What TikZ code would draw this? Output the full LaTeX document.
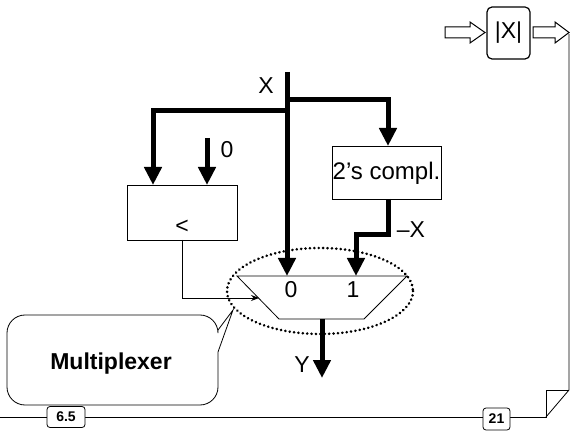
\documentclass[tikz,border=0pt]{standalone}
\usepackage{fontspec}
\setmainfont{Liberation Sans}
\usetikzlibrary{arrows.meta}
\begin{document}
\begin{tikzpicture}[x=1pt,y=-1pt,
  bus/.style={line width=5pt,-{Triangle[width=17pt,length=18pt]}},
  thin/.style={line width=0.8pt},
  lbl/.style={inner sep=0pt,font=\fontsize{23}{26}\selectfont},
  blk/.style={draw,thin,fill=white,inner sep=0pt},
  pg/.style={draw,thin,fill=white,rounded corners=3pt,inner sep=0pt,font=\bfseries\fontsize{14}{16}\selectfont},
  hollow/.style={draw,line width=1pt,fill=white}]
\useasboundingbox (0,0) rectangle (571,433);
% page frame
\coordinate (bl) at (0,417);
\coordinate (fold) at (546,417);
\coordinate (foldtop) at (546,390);
\coordinate (fr) at (569,390);
\coordinate (rt) at (569,34);
\draw[thin] (bl) -- (fold) -- (foldtop) -- (fr);
\draw[thin] (fold) -- (fr) -- (rt);
\node[pg,minimum width=38pt,minimum height=21pt] (p1) at (66,417) {6.5};
\node[pg,minimum width=27pt,minimum height=22pt] (p2) at (496.5,419) {21};
% top icon
\draw[hollow] (445,27) -- (470,27) -- (470,22) -- (485,32.5) -- (470,43) -- (470,38) -- (445,38) -- cycle;
\node[draw,line width=1.2pt,rounded corners=5pt,minimum width=43pt,minimum height=52pt,inner sep=0pt,font=\fontsize{23}{26}\selectfont] (abs) at (508.5,33) {|X|};
\draw[hollow] (533,27) -- (555,27) -- (555,22) -- (569,32.5) -- (555,43) -- (555,38) -- (533,38) -- cycle;
% blocks
\node[blk,minimum width=110pt,minimum height=55pt] (cmp) at (182,212.5) {};
\node[lbl] (lt) at (182,227) {<};
\node[blk,minimum width=109pt,minimum height=53pt] (neg) at (386.5,172.5) {};
\node[lbl,font=\fontsize{24}{26}\selectfont] (negt) at (386.5,173) {2’s compl.};
% mux
\coordinate (mtl) at (237,276);
\coordinate (mtr) at (407,276);
\coordinate (mbr) at (364,319);
\coordinate (mbl) at (279,319);
\draw[thin] (mtl) -- (mtr) -- (mbr) -- (mbl) -- cycle;
\node[lbl] (m0) at (291,290) {0};
\node[lbl] (m1) at (353,290) {1};
\draw[line width=2.8pt,dash pattern=on 0.1pt off 4.3pt,line cap=round] (320,291) ellipse [x radius=93, y radius=43];
% buses
\coordinate (xtop) at (287,72);
\coordinate (x0in) at (287,276);
\coordinate (xr) at (287,100);
\coordinate (xrc) at (388,100);
\coordinate (xl) at (287,111);
\coordinate (xlc) at (153,111);
\coordinate (c1in) at (153,185);
\coordinate (zs) at (207,138);
\coordinate (c2in) at (207,185);
\coordinate (nin) at (388,146);
\coordinate (nout) at (388,199);
\coordinate (nb) at (388,235);
\coordinate (nc) at (356,235);
\coordinate (x1in) at (356,276);
\coordinate (yout) at (322,319);
\coordinate (yend) at (322,378);
\draw[bus] (xtop) -- (x0in);
\draw[bus] (xl) -- (xlc) -- (c1in);
\draw[bus] (xr) -- (xrc) -- (nin);
\draw[bus] (zs) -- (c2in);
\draw[bus] (nout) -- (nb) -- (nc) -- (x1in);
\draw[bus] (yout) -- (yend);
% control
\coordinate (cout) at (182,240);
\coordinate (cb) at (182,298);
\coordinate (cin) at (259,298);
\draw[thin,-{Stealth[length=8pt,width=6pt]}] (cout) -- (cb) -- (cin);
% labels
\node[lbl] (lx) at (266,86) {X};
\node[lbl] (l0) at (227,150) {0};
\node[lbl] (lnx) at (411,230) {–X};
\node[lbl] (ly) at (302,365) {Y};
% callout
\draw[thin,fill=white] (218,330) [rounded corners=18pt] -- (218,315) -- (7,315) -- (7,405) -- (218,405) [sharp corners] -- (218,352) -- (233,310) -- cycle;
\node[lbl,font=\bfseries\fontsize{23}{26}\selectfont] (mux) at (111,364) {Multiplexer};
\end{tikzpicture}
\end{document}
